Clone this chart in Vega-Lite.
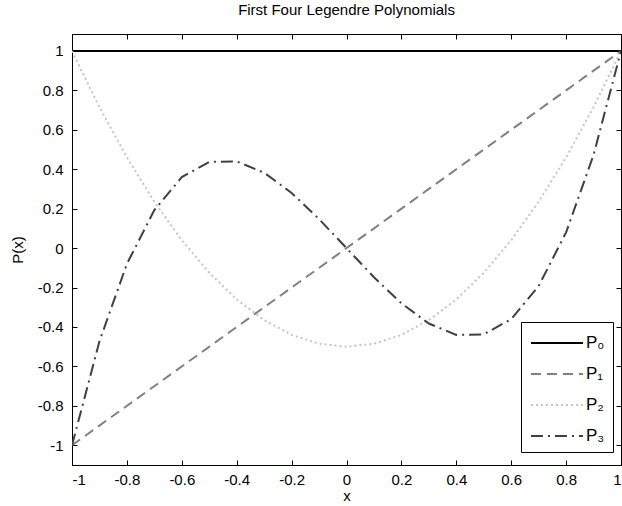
{
  "$schema": "https://vega.github.io/schema/vega-lite/v6.json",
  "width": 549,
  "height": 431,
  "autosize": {"type": "none"},
  "padding": {"left": 72, "top": 34, "right": 1, "bottom": 41},
  "background": "white",
  "title": {"text": "First Four Legendre Polynomials", "fontSize": 15, "font": "Liberation Sans", "fontWeight": "normal", "color": "black", "offset": 16},
  "config": {
    "view": {"stroke": "black", "strokeWidth": 1},
    "font": "Liberation Sans",
    "axis": {"domainColor": "black", "tickColor": "black", "labelColor": "black", "titleColor": "black", "labelFont": "Liberation Sans", "titleFont": "Liberation Sans", "labelFontSize": 15, "titleFontSize": 15, "titleFontWeight": "normal", "grid": false, "tickSize": -5, "labelPadding": 14, "labelExpr": "datum.value + ''"}
  },
  "data": {"values": [
    {"x": -1, "y": 1, "s": "P₀"}, {"x": 1, "y": 1, "s": "P₀"},
    {"x": -1, "y": -1, "s": "P₁"}, {"x": 1, "y": 1, "s": "P₁"},
    {"x": -1, "y": 1, "s": "P₂"}, {"x": -0.9, "y": 0.715, "s": "P₂"}, {"x": -0.8, "y": 0.46, "s": "P₂"}, {"x": -0.7, "y": 0.235, "s": "P₂"}, {"x": -0.6, "y": 0.04, "s": "P₂"}, {"x": -0.5, "y": -0.125, "s": "P₂"}, {"x": -0.4, "y": -0.26, "s": "P₂"}, {"x": -0.3, "y": -0.365, "s": "P₂"}, {"x": -0.2, "y": -0.44, "s": "P₂"}, {"x": -0.1, "y": -0.485, "s": "P₂"}, {"x": 0, "y": -0.5, "s": "P₂"}, {"x": 0.1, "y": -0.485, "s": "P₂"}, {"x": 0.2, "y": -0.44, "s": "P₂"}, {"x": 0.3, "y": -0.365, "s": "P₂"}, {"x": 0.4, "y": -0.26, "s": "P₂"}, {"x": 0.5, "y": -0.125, "s": "P₂"}, {"x": 0.6, "y": 0.04, "s": "P₂"}, {"x": 0.7, "y": 0.235, "s": "P₂"}, {"x": 0.8, "y": 0.46, "s": "P₂"}, {"x": 0.9, "y": 0.715, "s": "P₂"}, {"x": 1, "y": 1, "s": "P₂"},
    {"x": -1, "y": -1, "s": "P₃"}, {"x": -0.9, "y": -0.4725, "s": "P₃"}, {"x": -0.8, "y": -0.08, "s": "P₃"}, {"x": -0.7, "y": 0.1925, "s": "P₃"}, {"x": -0.6, "y": 0.36, "s": "P₃"}, {"x": -0.5, "y": 0.4375, "s": "P₃"}, {"x": -0.4, "y": 0.44, "s": "P₃"}, {"x": -0.3, "y": 0.3825, "s": "P₃"}, {"x": -0.2, "y": 0.28, "s": "P₃"}, {"x": -0.1, "y": 0.1475, "s": "P₃"}, {"x": 0, "y": 0, "s": "P₃"}, {"x": 0.1, "y": -0.1475, "s": "P₃"}, {"x": 0.2, "y": -0.28, "s": "P₃"}, {"x": 0.3, "y": -0.3825, "s": "P₃"}, {"x": 0.4, "y": -0.44, "s": "P₃"}, {"x": 0.5, "y": -0.4375, "s": "P₃"}, {"x": 0.6, "y": -0.36, "s": "P₃"}, {"x": 0.7, "y": -0.1925, "s": "P₃"}, {"x": 0.8, "y": 0.08, "s": "P₃"}, {"x": 0.9, "y": 0.4725, "s": "P₃"}, {"x": 1, "y": 1, "s": "P₃"}
  ]},
  "layer": [
    {
      "mark": {"type": "line", "strokeWidth": 2, "clip": true},
      "encoding": {
        "x": {"field": "x", "type": "quantitative", "scale": {"domain": [-1, 1], "nice": false, "zero": false},
              "axis": {"orient": "bottom", "title": "x", "values": [-1, -0.8, -0.6, -0.4, -0.2, 0, 0.2, 0.4, 0.6, 0.8, 1], "labelPadding": 12, "titlePadding": 1}},
        "y": {"field": "y", "type": "quantitative", "scale": {"domain": [-1.1, 1.086], "nice": false, "zero": false},
              "axis": {"orient": "left", "title": "P(x)", "values": [-1, -0.8, -0.6, -0.4, -0.2, 0, 0.2, 0.4, 0.6, 0.8, 1], "titlePadding": 12}},
        "color": {"field": "s", "type": "nominal",
                  "scale": {"domain": ["P₀", "P₁", "P₂", "P₃"], "range": ["#000000", "#808080", "#c4c4c4", "#404040"]},
                  "legend": {"orient": "none", "legendX": 449, "legendY": 288, "title": null, "strokeColor": "black", "fillColor": "white", "padding": 8, "symbolType": "M-2.17,0H2.17", "symbolSize": 576, "symbolStrokeWidth": 2, "symbolOffset": 15, "labelFontSize": 17, "labelFont": "Liberation Sans", "labelColor": "black", "labelOffset": 16, "rowPadding": 10}},
        "strokeDash": {"field": "s", "type": "nominal",
                  "scale": {"domain": ["P₀", "P₁", "P₂", "P₃"], "range": [[1, 0], [10, 6], [2, 3], [12, 5, 2, 5]]},
                  "legend": {"orient": "none", "legendX": 449, "legendY": 288, "title": null, "strokeColor": "black", "fillColor": "white", "padding": 8, "symbolType": "M-2.17,0H2.17", "symbolSize": 576, "symbolStrokeWidth": 2, "symbolOffset": 15, "labelFontSize": 17, "labelFont": "Liberation Sans", "labelColor": "black", "labelOffset": 16, "rowPadding": 10}}
      }
    },
    {
      "mark": {"type": "point", "opacity": 0},
      "encoding": {
        "x": {"field": "x", "type": "quantitative", "scale": {"domain": [-1, 1], "nice": false, "zero": false}, "axis": {"orient": "top", "title": null, "labels": false, "values": [-1, -0.8, -0.6, -0.4, -0.2, 0, 0.2, 0.4, 0.6, 0.8, 1]}},
        "y": {"field": "y", "type": "quantitative", "scale": {"domain": [-1.1, 1.086], "nice": false, "zero": false}, "axis": {"orient": "right", "title": null, "labels": false, "values": [-1, -0.8, -0.6, -0.4, -0.2, 0, 0.2, 0.4, 0.6, 0.8, 1]}}
      }
    }
  ]
}
